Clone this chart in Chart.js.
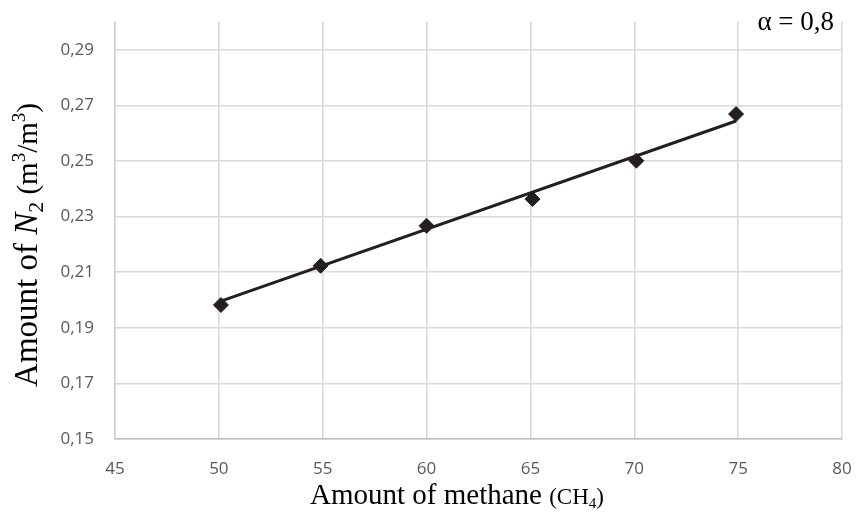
<!DOCTYPE html>
<html>
<head>
<meta charset="utf-8">
<script src="https://cdn.jsdelivr.net/npm/chart.js@4"></script>
<style>
html,body{margin:0;padding:0;background:#fff;}
#wrap{width:856px;height:513px;position:relative;}
</style>
</head>
<body>
<div id="wrap"><canvas id="c" width="856" height="513"></canvas></div>
<script>
// Data
const methaneX = [50.1, 54.9, 60.0, 65.1, 70.1, 74.9];
const nitrogenY = [0.1982, 0.2123, 0.2267, 0.2363, 0.2501, 0.2669];
const trendX = [50.1, 74.9];
const trendY = [0.1996, 0.2644];
const xTicks = [45, 50, 55, 60, 65, 70, 75, 80];
const yTicks = [0.15, 0.17, 0.19, 0.21, 0.23, 0.25, 0.27, 0.29];
const alphaLabel = 'α = 0,8';

const pts = methaneX.map((x, i) => ({x: x, y: nitrogenY[i]}));
const trend = trendX.map((x, i) => ({x: x, y: trendY[i]}));

const SERIF = '"Liberation Serif", "Times New Roman", serif';

function drawRuns(ctx, runs, startX, baseY) {
  let x = startX;
  for (const r of runs) {
    ctx.font = r.font;
    ctx.fillText(r.t, x, baseY + (r.dy || 0));
    x += ctx.measureText(r.t).width;
  }
}
function runsWidth(ctx, runs) {
  let w = 0;
  for (const r of runs) { ctx.font = r.font; w += ctx.measureText(r.t).width; }
  return w;
}

const titlePlugin = {
  id: 'titles',
  afterDraw(chart) {
    const ctx = chart.ctx;
    ctx.save();
    ctx.fillStyle = '#000';
    ctx.textBaseline = 'alphabetic';
    ctx.textAlign = 'left';
    // X title
    const xr = [
      {t: 'Amount of methane ', font: '29px ' + SERIF},
      {t: '(CH', font: '23px ' + SERIF},
      {t: '4', font: '15px ' + SERIF, dy: 4},
      {t: ')', font: '23px ' + SERIF}
    ];
    const xw = runsWidth(ctx, xr);
    drawRuns(ctx, xr, 457 - xw / 2, 504);
    // Y title (rotated)
    const yr = [
      {t: 'Amount of ', font: '33px ' + SERIF},
      {t: 'N', font: 'italic 33px ' + SERIF},
      {t: '2', font: '22px ' + SERIF, dy: 6},
      {t: ' (m', font: '29px ' + SERIF},
      {t: '3', font: '19px ' + SERIF, dy: -12},
      {t: '/m', font: '29px ' + SERIF},
      {t: '3', font: '19px ' + SERIF, dy: -12},
      {t: ')', font: '29px ' + SERIF}
    ];
    const yw = runsWidth(ctx, yr);
    ctx.translate(37, 245);
    ctx.rotate(-Math.PI / 2);
    drawRuns(ctx, yr, -yw / 2, 0);
    ctx.restore();
    // alpha label
    ctx.save();
    ctx.fillStyle = '#000';
    ctx.font = '27px ' + SERIF;
    ctx.textAlign = 'right';
    ctx.textBaseline = 'alphabetic';
    ctx.fillText(alphaLabel, 834, 30);
    ctx.restore();
  }
};

function noPad(s) {
  s.paddingTop = 0; s.paddingBottom = 0; s.paddingLeft = 0; s.paddingRight = 0;
}

new Chart(document.getElementById('c'), {
  type: 'scatter',
  data: {
    datasets: [
      {
        label: 'trend',
        data: trend,
        showLine: true,
        borderColor: '#231f20',
        borderWidth: 3,
        pointRadius: 0,
        order: 2
      },
      {
        label: 'N2',
        data: pts,
        showLine: false,
        pointStyle: 'rectRot',
        pointRadius: 7.5,
        pointHoverRadius: 7.5,
        backgroundColor: '#231f20',
        borderColor: '#231f20',
        borderWidth: 1,
        order: 1
      }
    ]
  },
  options: {
    responsive: false,
    animation: false,
    events: [],
    layout: {padding: {top: 22, right: 14, left: 0, bottom: 0}},
    plugins: {legend: {display: false}, tooltip: {enabled: false}, title: {display: false}},
    scales: {
      x: {
        type: 'linear',
        min: 45, max: 80,
        afterBuildTicks: s => { s.ticks = xTicks.map(v => ({value: v})); },
        afterFit: s => { s.height = 74; noPad(s); },
        grid: {color: '#d9d9d9', lineWidth: 1.5, drawTicks: false},
        border: {color: '#bfbfbf', width: 1.5},
        ticks: {
          color: '#595959', padding: 20,
          font: {family: '"Open Sans", "Noto Sans", sans-serif', size: 17},
          callback: v => String(v)
        }
      },
      y: {
        type: 'linear',
        min: 0.15, max: 0.30,
        afterBuildTicks: s => { s.ticks = yTicks.map(v => ({value: v})); },
        afterFit: s => { s.width = 115; noPad(s); },
        grid: {color: '#d9d9d9', lineWidth: 1.5, drawTicks: false},
        border: {color: '#d0d0d0', width: 1.5},
        ticks: {
          color: '#595959', padding: 21,
          font: {family: '"Open Sans", "Noto Sans", sans-serif', size: 17},
          callback: v => v.toFixed(2).replace('.', ',')
        }
      }
    }
  },
  plugins: [titlePlugin]
});
</script>
</body>
</html>
